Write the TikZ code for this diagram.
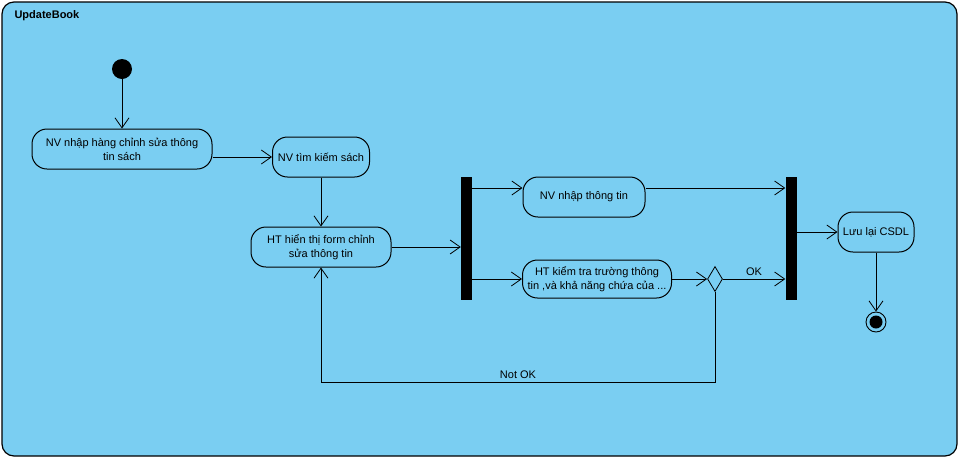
\documentclass[tikz,border=0pt]{standalone}
\usepackage{fontspec}
\setmainfont{Liberation Sans}
\usepackage{xcolor}
\usetikzlibrary{arrows.meta,shapes.geometric}
\definecolor{vpblue}{RGB}{122,206,242}

\begin{document}
\begin{tikzpicture}[
    x=1pt, y=-1pt,
    font=\fontsize{11}{14}\selectfont,
    frame/.style={draw, fill=vpblue, rounded corners=12pt, line width=1.2pt,
      minimum width=955pt, minimum height=454pt, inner sep=0pt},
    act/.style={draw, rounded corners=15pt, minimum height=40pt, align=center,
      inner sep=2pt, line width=1pt},
    bar/.style={fill=black, minimum width=11pt, minimum height=123pt, inner sep=0pt},
    choice/.style={diamond, draw, minimum width=15pt, minimum height=25pt,
      inner sep=0pt, line width=0.8pt},
    start/.style={circle, fill=black, minimum size=20pt, inner sep=0pt},
    stop/.style={circle, draw, line width=0.9pt, minimum size=20pt, inner sep=0pt,
      path picture={\fill (path picture bounding box.center) circle (6.5pt);}},
    ar/.style={-{Straight Barb[length=10pt, width=14pt]}, line width=0.8pt},
  ]
    \useasboundingbox (0,0) rectangle (959,459);
    % Frame and title
    \node[frame] (frm) at (479.5,229) {};
    \node[anchor=west, font=\fontsize{11}{14}\selectfont\bfseries] (ttl) at (11,16) {UpdateBook};
    % Left part
    \node[start] (init) at (122,69) {};
    \node[act, minimum width=180pt] (a1) at (122,149) {NV nhập hàng chỉnh sửa thông\\tin sách};
    \node[act, minimum width=97pt]  (a2) at (321,157) {NV tìm kiếm sách};
    \node[act, minimum width=140pt] (a3) at (321,247) {HT hiển thị form chỉnh\\sửa thông tin};
    % Fork, parallel branches, join
    \node[bar] (fork) at (466.5,238.5) {};
    \node[act, minimum width=122pt] (a4) at (584,197) {NV nhập thông tin};
    \node[act, minimum width=149pt, minimum height=38pt] (a5) at (597,279)
      {HT kiểm tra trường thông\\tin ,và khả năng chứa của ...};
    \node[choice] (chk) at (715,279) {};
    \node[bar] (join) at (791,238.5) {};
    % Right part
    \node[act, minimum width=76pt] (a6) at (876,232) {Lưu lại CSDL};
    \node[stop] (end) at (876,322) {};
    \coordinate (t1) at ([yshift=9pt]a4.west);
    \coordinate (t2) at ([yshift=9pt]a4.east);
    \coordinate (lp) at (321,382);
    % Arrows
    \draw[ar] (init) -- (a1);
    \draw[ar] (a1.east |- a2.west) -- (a2.west);
    \draw[ar] (a2.south) -- (a2.south |- a3.north);
    \draw[ar] (a3.east) -- (fork.west |- a3.east);
    \draw[ar] (fork.east |- t1) -- (t1);
    \draw[ar] (fork.east |- a5.west) -- (a5.west);
    \draw[ar] (t2) -- (join.west |- t2);
    \draw[ar] (a5.east) -- (chk.west);
    \draw[ar] (chk.east) -- node[above] {OK} (join.west |- chk.east);
    \draw[ar] (chk.south) |- node[pos=0.75, above] {Not OK} (lp) -- (a3.south);
    \draw[ar] (join.east |- a6.west) -- (a6.west);
    \draw[ar] (a6.south) -- (end.north);
  \end{tikzpicture}
\end{document}
